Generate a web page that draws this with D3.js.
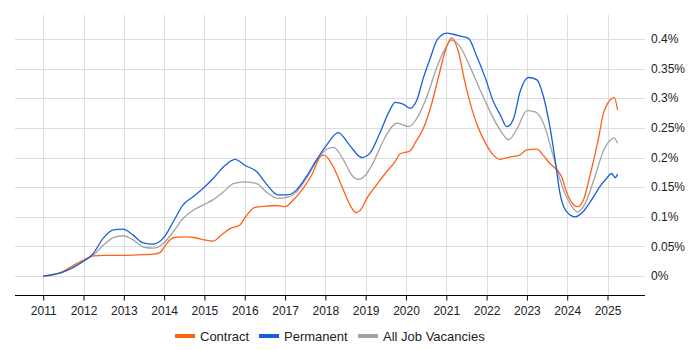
<!DOCTYPE html>
<html>
<head>
<meta charset="utf-8">
<script src="https://cdn.jsdelivr.net/npm/d3@7.9.0/dist/d3.min.js"></script>
<style>
  body { margin: 0; background: #fff; }
  svg { display: block; font-family: "Liberation Sans", Arial, sans-serif; }
</style>
</head>
<body>
<svg id="chart" width="700" height="350"></svg>
<script>
// values in % (decimal years on x)
const contractYears = [2011.0, 2011.25, 2011.5, 2011.75, 2012.0, 2012.25, 2012.5, 2013.0, 2013.5, 2013.75, 2013.9, 2014.1, 2014.25, 2014.5, 2014.75, 2015.0, 2015.22, 2015.4, 2015.63, 2015.88, 2016.0, 2016.25, 2016.53, 2016.78, 2017.0, 2017.2, 2017.45, 2017.66, 2017.9, 2017.97, 2018.2, 2018.41, 2018.61, 2018.76, 2018.9, 2019.03, 2019.27, 2019.52, 2019.73, 2019.85, 2020.1, 2020.22, 2020.43, 2020.63, 2020.8, 2020.97, 2021.13, 2021.3, 2021.46, 2021.63, 2021.8, 2022.0, 2022.17, 2022.33, 2022.58, 2022.82, 2023.0, 2023.25, 2023.4, 2023.57, 2023.74, 2023.86, 2023.98, 2024.1, 2024.25, 2024.4, 2024.56, 2024.77, 2024.9, 2025.0, 2025.17, 2025.25];
const contractValues = [0.0, 0.002, 0.008, 0.018, 0.027, 0.034, 0.035, 0.035, 0.036, 0.037, 0.040, 0.058, 0.065, 0.066, 0.065, 0.061, 0.059, 0.068, 0.080, 0.086, 0.098, 0.116, 0.118, 0.119, 0.117, 0.128, 0.148, 0.170, 0.203, 0.204, 0.184, 0.151, 0.120, 0.107, 0.114, 0.131, 0.154, 0.176, 0.193, 0.206, 0.211, 0.224, 0.249, 0.289, 0.334, 0.379, 0.402, 0.379, 0.328, 0.283, 0.249, 0.221, 0.204, 0.197, 0.201, 0.204, 0.213, 0.214, 0.204, 0.190, 0.179, 0.168, 0.142, 0.125, 0.117, 0.128, 0.168, 0.230, 0.275, 0.291, 0.301, 0.280];

const permYears = [2011.0, 2011.5, 2012.0, 2012.24, 2012.49, 2012.74, 2012.98, 2013.23, 2013.48, 2013.73, 2013.98, 2014.23, 2014.47, 2014.72, 2014.97, 2015.22, 2015.47, 2015.76, 2016.0, 2016.3, 2016.53, 2016.82, 2017.07, 2017.28, 2017.53, 2017.78, 2018.03, 2018.32, 2018.6, 2018.9, 2019.1, 2019.35, 2019.6, 2019.73, 2019.93, 2020.1, 2020.27, 2020.43, 2020.6, 2020.77, 2021.01, 2021.17, 2021.34, 2021.55, 2021.76, 2021.97, 2022.17, 2022.34, 2022.5, 2022.67, 2022.83, 2023.04, 2023.25, 2023.41, 2023.57, 2023.7, 2023.82, 2023.98, 2024.19, 2024.4, 2024.6, 2024.81, 2024.98, 2025.1, 2025.19, 2025.25];
const permValues = [0.0, 0.007, 0.025, 0.038, 0.064, 0.078, 0.079, 0.069, 0.056, 0.054, 0.064, 0.092, 0.120, 0.134, 0.148, 0.165, 0.184, 0.197, 0.187, 0.176, 0.156, 0.137, 0.137, 0.145, 0.168, 0.196, 0.221, 0.242, 0.221, 0.200, 0.207, 0.241, 0.280, 0.293, 0.290, 0.283, 0.297, 0.334, 0.367, 0.398, 0.410, 0.408, 0.405, 0.401, 0.370, 0.334, 0.294, 0.272, 0.252, 0.266, 0.311, 0.335, 0.331, 0.303, 0.252, 0.196, 0.140, 0.109, 0.100, 0.109, 0.128, 0.151, 0.165, 0.173, 0.166, 0.172];

const allYears = [2011.0, 2011.5, 2012.0, 2012.24, 2012.49, 2012.74, 2012.98, 2013.23, 2013.48, 2013.73, 2013.98, 2014.23, 2014.47, 2014.72, 2014.97, 2015.22, 2015.47, 2015.72, 2016.0, 2016.3, 2016.53, 2016.82, 2017.07, 2017.28, 2017.53, 2017.78, 2018.03, 2018.2, 2018.45, 2018.66, 2018.82, 2018.99, 2019.2, 2019.45, 2019.78, 2020.07, 2020.27, 2020.52, 2020.77, 2021.0, 2021.13, 2021.34, 2021.59, 2021.84, 2022.09, 2022.34, 2022.55, 2022.76, 2023.0, 2023.2, 2023.41, 2023.66, 2023.91, 2024.12, 2024.26, 2024.45, 2024.66, 2024.91, 2025.08, 2025.16, 2025.25];
const allValues = [0.0, 0.007, 0.025, 0.035, 0.052, 0.065, 0.068, 0.061, 0.049, 0.047, 0.055, 0.075, 0.097, 0.111, 0.120, 0.129, 0.142, 0.156, 0.159, 0.156, 0.142, 0.131, 0.133, 0.142, 0.165, 0.193, 0.214, 0.217, 0.196, 0.170, 0.163, 0.170, 0.193, 0.230, 0.258, 0.252, 0.266, 0.303, 0.353, 0.387, 0.398, 0.387, 0.353, 0.314, 0.277, 0.246, 0.230, 0.249, 0.279, 0.277, 0.258, 0.201, 0.145, 0.117, 0.108, 0.123, 0.162, 0.213, 0.230, 0.233, 0.224];

const yearTicks = d3.range(2011, 2026);
const yTicks = [0, 0.05, 0.1, 0.15, 0.2, 0.25, 0.3, 0.35, 0.4];

const seriesNames = ['Contract', 'Permanent', 'All Job Vacancies'];
const seriesColors = ['#ff6119', '#1a5ee0', '#a3a3a3'];

const svg = d3.select('#chart');
const plotLeft = 15, plotRight = 645, plotTop = 15, plotBottom = 295;

const x = d3.scaleLinear().domain([2010.3, 2025.93]).range([plotLeft, plotRight]);
const y = d3.scaleLinear().domain([-0.032, 0.4405]).range([plotBottom, plotTop]);

// grid
svg.append('g')
  .selectAll('line')
  .data(yTicks)
  .join('line')
  .attr('x1', plotLeft).attr('x2', plotRight)
  .attr('y1', d => Math.round(y(d)) + 0.5).attr('y2', d => Math.round(y(d)) + 0.5)
  .attr('stroke', '#dddddd');

svg.append('g')
  .selectAll('line')
  .data(yearTicks)
  .join('line')
  .attr('x1', d => Math.round(x(d)) + 0.5).attr('x2', d => Math.round(x(d)) + 0.5)
  .attr('y1', plotTop).attr('y2', plotBottom)
  .attr('stroke', '#dddddd');

// x axis
const xAxis = d3.axisBottom(x).tickValues(yearTicks).tickFormat(d3.format('d')).tickSize(5).tickSizeOuter(0);
const gx = svg.append('g').attr('transform', `translate(0,${plotBottom + 0.5})`).call(xAxis);
gx.select('.domain').attr('stroke', '#000').attr('d', `M${plotLeft},0H${plotRight}`);
gx.selectAll('.tick line').attr('stroke', '#000');
gx.selectAll('.tick text').attr('font-size', 12).attr('fill', '#222').attr('dy', '0.95em');

// y labels (right side)
svg.append('g')
  .selectAll('text')
  .data(yTicks)
  .join('text')
  .attr('x', 651)
  .attr('y', d => y(d))
  .attr('dy', '0.35em')
  .attr('font-size', 12)
  .attr('fill', '#222')
  .text(d => d3.format('~g')(d) + '%');

// lines
const line = d3.line()
  .x(d => x(d[0]))
  .y(d => y(d[1]))
  .curve(d3.curveMonotoneX);

const data = [
  d3.zip(allYears, allValues),
  d3.zip(contractYears, contractValues),
  d3.zip(permYears, permValues)
];
const order = [2, 0, 1];

svg.append('g')
  .selectAll('path')
  .data(data)
  .join('path')
  .attr('d', line)
  .attr('fill', 'none')
  .attr('stroke', (_, i) => seriesColors[order[i]])
  .attr('stroke-width', 1.3);

// legend
const legendX = [175, 259, 358];
const legend = svg.append('g');
seriesNames.forEach((name, i) => {
  legend.append('line')
    .attr('x1', legendX[i]).attr('x2', legendX[i] + 20)
    .attr('y1', 336).attr('y2', 336)
    .attr('stroke', seriesColors[i])
    .attr('stroke-width', 4);
  legend.append('text')
    .attr('x', legendX[i] + 25)
    .attr('y', 336)
    .attr('dy', '0.35em')
    .attr('font-size', 13)
    .attr('fill', '#222')
    .text(name);
});
</script>
</body>
</html>
